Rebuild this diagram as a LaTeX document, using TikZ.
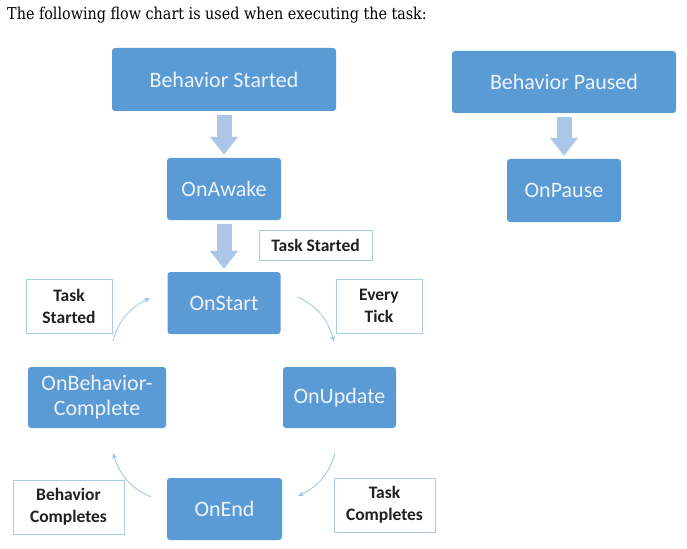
\documentclass[tikz,border=0pt]{standalone}
\usepackage{fontspec}
\setmainfont{Carlito}
\newfontfamily\headfont[FakeStretch=0.88]{DejaVu Serif}
\usetikzlibrary{arrows.meta,bending}
\definecolor{boxblue}{HTML}{5B9BD5}
\definecolor{boxtext}{HTML}{EEF3FA}
\definecolor{blockarrow}{HTML}{ABC6E6}
\definecolor{lblborder}{HTML}{A8CBE8}
\definecolor{thinarrow}{HTML}{9DC3E6}
\definecolor{lbltext}{HTML}{202020}
\tikzset{
  bluebox/.style={draw=none, fill=boxblue, rounded corners=3pt, text=boxtext,
    font=\fontsize{22}{25}\selectfont, align=center, inner sep=0pt},
  lblbox/.style={draw=lblborder, line width=0.8pt, fill=white, text=lbltext,
    font=\bfseries\fontsize{17.5}{22}\selectfont, align=center, inner sep=0pt},
  blockarr/.style={draw=blockarrow, line width=15pt,
    -{Triangle[width=27pt,length=18pt]}, shorten <=4pt, shorten >=3pt},
  thinarr/.style={draw=thinarrow, line width=0.8pt,
    -{Stealth[length=6pt,width=5pt,bend]}}
}
\begin{document}
\begin{tikzpicture}[x=1pt,y=-1pt]
\useasboundingbox (0,0) rectangle (687,548);
\node[anchor=base west, inner sep=0pt, font=\headfont\fontsize{16.3}{19}\selectfont] (head) at (7,20) {The following flow chart is used when executing the task:};
% blue boxes
\node[bluebox, minimum width=224pt, minimum height=63pt] (bs) at (224,79.5) {Behavior Started};
\node[bluebox, minimum width=114pt, minimum height=62pt] (aw) at (224,189) {OnAwake};
\node[bluebox, minimum width=113pt, minimum height=62pt] (os) at (224,303) {OnStart};
\node[bluebox, minimum width=138pt, minimum height=61pt] (obc) at (97,397.5) {OnBehavior-\\Complete};
\node[bluebox, minimum width=113pt, minimum height=61pt] (ou) at (339.5,397.5) {OnUpdate};
\node[bluebox, minimum width=115pt, minimum height=62pt] (oe) at (224.5,509) {OnEnd};
\node[bluebox, minimum width=224pt, minimum height=62pt] (bp) at (564,82) {Behavior Paused};
\node[bluebox, minimum width=114pt, minimum height=63pt] (op) at (564,190.5) {OnPause};
% labels
\node[lblbox, minimum width=113pt, minimum height=30pt] (ts1) at (315.5,245) {Task Started};
\node[lblbox, minimum width=86pt, minimum height=54pt] (ts2) at (69,306) {Task\\Started};
\node[lblbox, minimum width=86pt, minimum height=54pt] (et) at (379,306) {Every\\Tick};
\node[lblbox, minimum width=111pt, minimum height=54pt] (bc) at (68.5,507) {Behavior\\Completes};
\node[lblbox, minimum width=101pt, minimum height=54pt] (tc) at (384.5,505) {Task\\Completes};
% block arrows
\draw[blockarr] (bs) -- (aw);
\draw[blockarr] (aw) -- (os);
\draw[blockarr] (bp) -- (op);
% thin curved arrows
\coordinate (a1s) at (113,341);
\coordinate (a1e) at (150,298);
\coordinate (a2s) at (298,297);
\coordinate (a2e) at (334,342);
\coordinate (a3s) at (335,453);
\coordinate (a3e) at (298,496);
\coordinate (a4s) at (151,497);
\coordinate (a4e) at (113,453);
\draw[thinarr] (a1s) to[bend left=25] (a1e);
\draw[thinarr] (a2s) to[bend left=25] (a2e);
\draw[thinarr] (a3s) to[bend left=25] (a3e);
\draw[thinarr] (a4s) to[bend left=25] (a4e);
\end{tikzpicture}
\end{document}
